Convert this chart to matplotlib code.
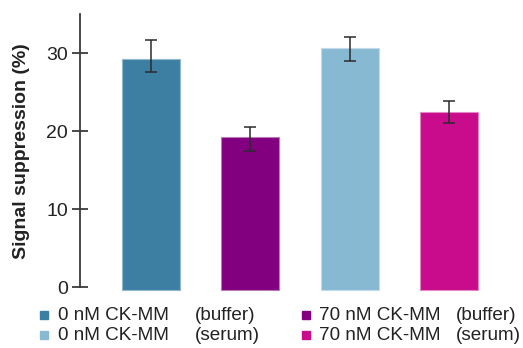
import matplotlib.pyplot as plt
from matplotlib.patches import Rectangle

plt.rcParams["font.family"] = ["Liberation Sans", "DejaVu Sans"]

# data
conditions = ["0 nM CK-MM (buffer)", "70 nM CK-MM (buffer)",
              "0 nM CK-MM (serum)", "70 nM CK-MM (serum)"]
suppression = [29.2, 19.2, 30.6, 22.5]
err_low = [1.6, 1.8, 1.6, 1.5]
err_high = [2.5, 1.3, 1.5, 1.3]
colors = ["#3d7fa3", "#820080", "#88b9d3", "#c90c8c"]
edge_colors = ["#8fb6cc", "#b77db5", "#c3dbe8", "#e286c4"]
yticks = [0, 10, 20, 30]

legend_rows = [
    [("0 nM CK-MM", "(buffer)", colors[0]), ("70 nM CK-MM", "(buffer)", colors[1])],
    [("0 nM CK-MM", "(serum)", colors[2]), ("70 nM CK-MM", "(serum)", colors[3])],
]

W, H = 523, 348
fs = 14
fig = plt.figure(figsize=(W / 100, H / 100), dpi=100, facecolor="white")
ax = fig.add_axes([80 / W, 60.7 / H, 420 / W, 273.3 / H])

x = list(range(len(suppression)))
base = -0.3  # bars run a touch below the zero tick
ax.bar(x, [v - base for v in suppression], width=0.585, bottom=base,
       color=colors, edgecolor=edge_colors, linewidth=0.8, zorder=2,
       clip_on=False)
ax.errorbar(x, suppression, yerr=[err_low, err_high], fmt="none",
            ecolor="#2b2b2b", elinewidth=1.1, capsize=4.5, capthick=1.1, zorder=3)

ax.set_xlim(-0.71, 3.51)
ax.set_ylim(0, 35)
ax.set_yticks(yticks)
ax.set_xticks([])
for side in ("top", "right", "bottom"):
    ax.spines[side].set_visible(False)
ax.spines["left"].set_color("#3a3a3a")
ax.spines["left"].set_linewidth(1.3)
ax.tick_params(axis="y", direction="inout", length=11, width=1.3,
               color="#3a3a3a", labelsize=fs, labelcolor="#222222", pad=3)
ax.set_ylabel("Signal suppression (%)", fontsize=fs, fontweight="bold",
              color="#222222", labelpad=12)

# --- legend ---
row_y = [315, 335]
cols = [(43.5, 58, 195), (306, 319, 456)]
for r, row in enumerate(legend_rows):
    yy = 1 - row_y[r] / H
    for c, (name, medium, col) in enumerate(row):
        sx, tx, mx = cols[c]
        fig.patches.append(Rectangle(((sx - 4) / W, yy - 4 / H), 8 / W, 8 / H,
                                     transform=fig.transFigure, color=col))
        fig.text(tx / W, yy, name, fontsize=13.6, color="#222222", va="center")
        fig.text(mx / W, yy, medium, fontsize=13.6, color="#222222", va="center")

fig.savefig("out.png", dpi=100)
